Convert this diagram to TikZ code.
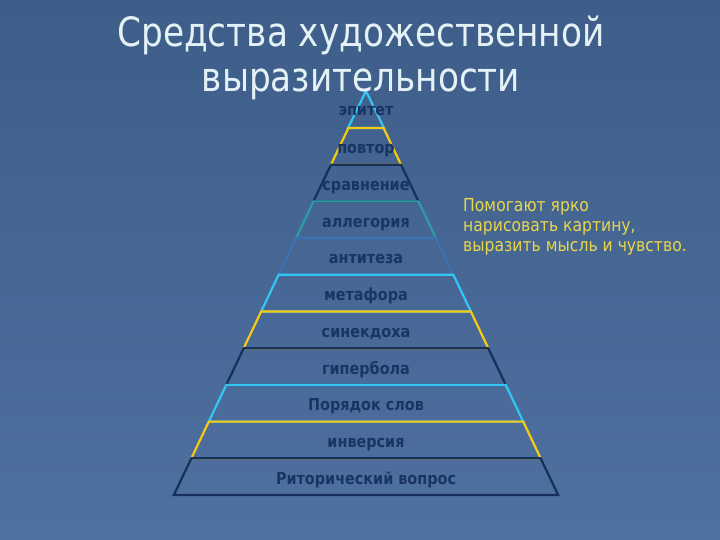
\documentclass[tikz,border=0pt]{standalone}
\usepackage{fontspec}
\setmainfont{DejaVu Sans}
\newfontfamily\narrowfont[FakeStretch=0.87]{DejaVu Sans}
\newfontfamily\titlefont[FakeStretch=0.85]{DejaVu Sans}
\usetikzlibrary{positioning}

\definecolor{bgtop}{HTML}{3E5D89}
\definecolor{bgbottom}{HTML}{4F71A0}
\definecolor{titlewhite}{HTML}{E4F2F6}
\definecolor{notegold}{HTML}{E9D64A}
\definecolor{labelnavy}{HTML}{1A3563}
\definecolor{lcyan}{HTML}{33C6F2}
\definecolor{lyellow}{HTML}{F5CB10}
\definecolor{lnavy}{HTML}{15305A}
\definecolor{lteal}{HTML}{2F9CA3}
\definecolor{lsteel}{HTML}{3D72B2}

\begin{document}
\begin{tikzpicture}[x=1bp,y=-1bp,
        title/.style={font=\titlefont\fontsize{40.5}{45}\selectfont, text=titlewhite, inner sep=0pt, anchor=base},
        lbl/.style={font=\narrowfont\bfseries\fontsize{16.6}{17}\selectfont, text=labelnavy, inner sep=0pt, anchor=base},
        note/.style={font=\narrowfont\fontsize{18}{20}\selectfont, text=notegold, inner sep=0pt, anchor=base west},
        layer/.style={line width=2.2bp, line join=miter}]
    \useasboundingbox (0,0) rectangle (720,540);
    \shade[top color=bgtop, bottom color=bgbottom] (0,0) rectangle (720,540);

    % top of the pyramid
    \coordinate (apex) at (366,91);
    \draw[layer, lcyan] (apex) -- (348,128) -- (384,128) -- cycle;
    \node[lbl] (l0) at (366,116) {эпитет};

    % the layers below it
    \foreach \i/\c/\t in {1/lyellow/повтор, 2/lnavy/сравнение, 3/lteal/аллегория,
            4/lsteel/антитеза, 5/lcyan/метафора, 6/lyellow/синекдоха, 7/lnavy/гипербола,
            8/lcyan/Порядок слов, 9/lyellow/инверсия, 10/lnavy/Риторический вопрос} {
            \pgfmathsetmacro\ytop{128+36.7*(\i-1)}
            \pgfmathsetmacro\ybot{\ytop+36.7}
            \pgfmathsetmacro\wtop{(\ytop-91)*0.4755}
            \pgfmathsetmacro\wbot{(\ybot-91)*0.4755}
            \draw[layer, \c] ({366-\wtop},\ytop) -- ({366+\wtop},\ytop)
                -- ({366+\wbot},\ybot) -- ({366-\wbot},\ybot) -- cycle;
            \node[lbl] (l\i) at (366,{\ytop+18.35+7.5}) {\t};
        }

    \node[title] (title1) at (361,47) {Средства художественной};
    \node[title] (title2) at (361,92) {выразительности};

    \node[note] (note1) at (463,212) {Помогают ярко};
    \node[note] (note2) at (463,232) {нарисовать картину,};
    \node[note] (note3) at (463,252) {выразить мысль и чувство.};
\end{tikzpicture}
\end{document}
